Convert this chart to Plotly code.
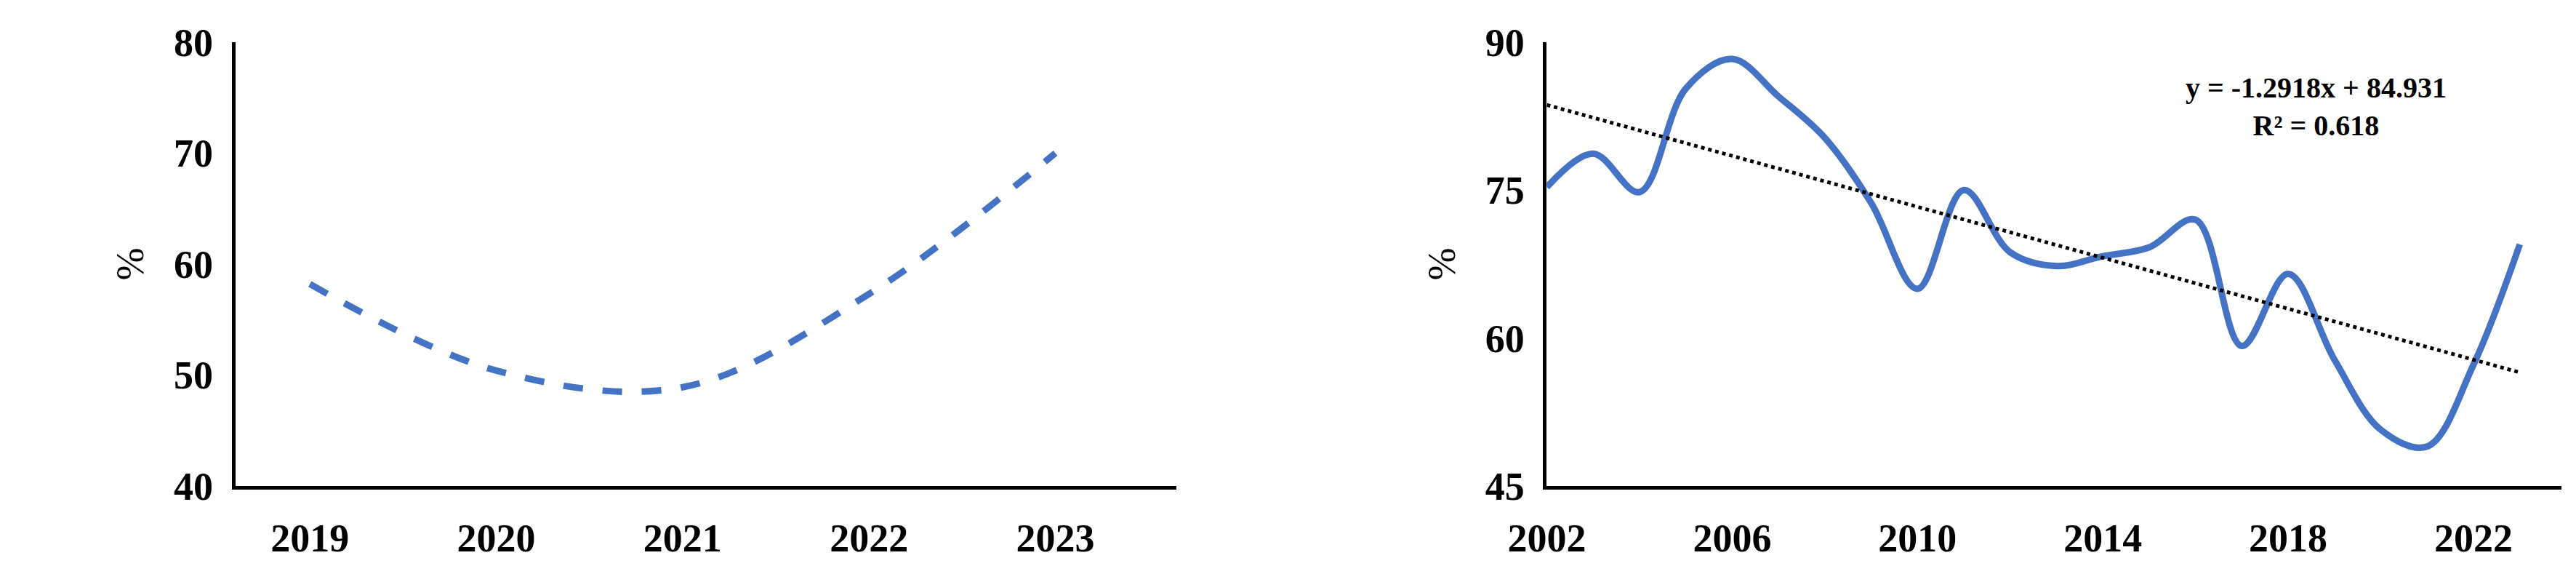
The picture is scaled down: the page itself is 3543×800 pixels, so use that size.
import plotly.graph_objects as go

left_years = [2019, 2020, 2021, 2022, 2023]
left_values = [58.2, 50.4, 48.9, 57.3, 70.0]

right_years = list(range(2002, 2024))
right_values = [75.3, 78.7, 74.8, 85.3, 88.3, 84.5, 80.3, 73.7, 65.0, 75.0, 68.7, 67.3,
                68.3, 69.2, 72.0, 59.2, 66.5, 57.8, 50.7, 49.0, 57.3, 69.5]
slope, intercept = -1.2918, 84.931
trend = [slope * (i + 1) + intercept for i in range(len(right_years))]

BLUE = "#4472C4"
FONT = dict(family="Liberation Serif", size=54, color="black")

fig = go.Figure()
fig.add_trace(go.Scatter(x=left_years, y=left_values, mode="lines",
                         line=dict(color=BLUE, width=9, dash="dash", shape="spline"),
                         xaxis="x", yaxis="y", showlegend=False))
fig.add_trace(go.Scatter(x=right_years, y=right_values, mode="lines",
                         line=dict(color=BLUE, width=9, shape="spline"),
                         xaxis="x2", yaxis="y2", showlegend=False))
fig.add_trace(go.Scatter(x=right_years, y=trend, mode="lines",
                         line=dict(color="black", width=5, dash="dot"),
                         xaxis="x2", yaxis="y2", showlegend=False))

axis_common = dict(showgrid=False, zeroline=False, showline=True, linecolor="black",
                   linewidth=5, ticks="", tickfont=dict(family="Liberation Serif", size=54, color="black"))
fig.update_layout(
    width=3543, height=800, plot_bgcolor="white", paper_bgcolor="white",
    font=FONT, margin=dict(l=0, r=0, t=50, b=140),
    xaxis=dict(domain=[0.075, 0.446], range=[2018.6, 2023.65], tickvals=left_years,
               ticklabelstandoff=20, **axis_common),
    yaxis=dict(domain=[0, 1], range=[40, 80], tickvals=[40, 50, 60, 70, 80],
               ticklabelstandoff=15, title=dict(text="%", font=FONT, standoff=25), **axis_common),
    xaxis2=dict(domain=[0.592, 0.992], range=[2002, 2023.9], tickvals=list(range(2002, 2023, 4)),
                ticklabelstandoff=20, anchor="y2", **axis_common),
    yaxis2=dict(domain=[0, 1], range=[45, 90], tickvals=[45, 60, 75, 90], anchor="x2",
                ticklabelstandoff=15, title=dict(text="%", font=FONT, standoff=25), **axis_common),
)
fig.update_xaxes(tickfont_weight="bold")
fig.update_yaxes(tickfont_weight="bold")
fig.add_annotation(xref="x2", yref="y2", x=2018.6, y=83.5, showarrow=False,
                   text="<b>y = -1.2918x + 84.931</b><br><b>R² = 0.618</b>",
                   font=dict(family="Liberation Serif", size=40, color="black"), align="center")
fig.write_html("out.html")
